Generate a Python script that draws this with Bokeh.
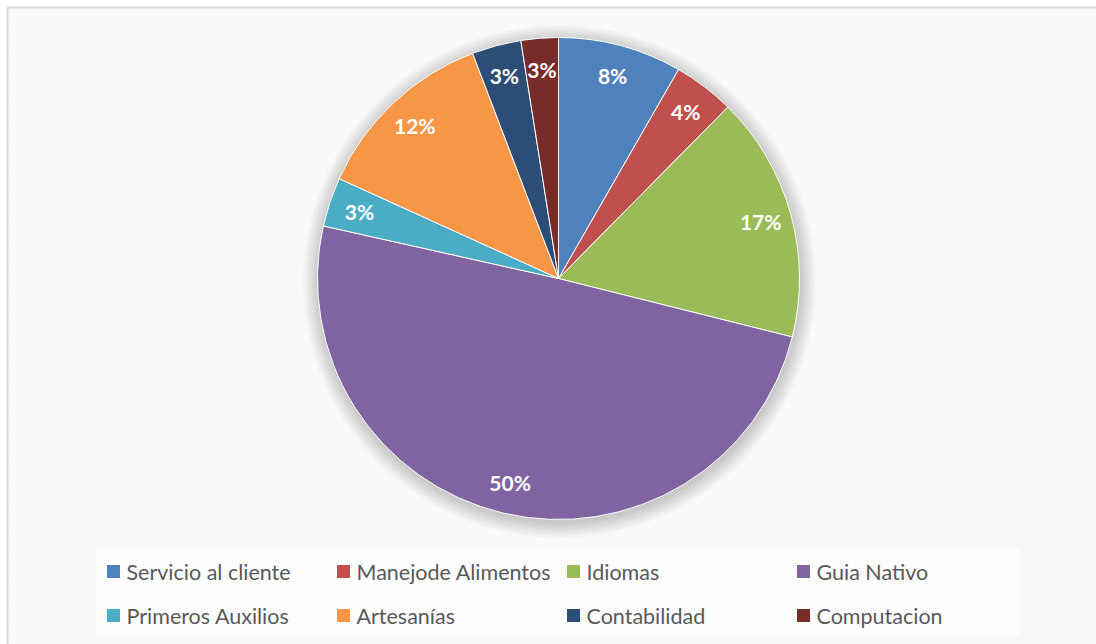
import math
from bokeh.plotting import figure
from bokeh.models import Range1d, ColumnDataSource
from bokeh.core.properties import value
from bokeh.embed import file_html
from bokeh.resources import INLINE

categories = ["Servicio al cliente", "Manejode Alimentos", "Idiomas", "Guia Nativo",
              "Primeros Auxilios", "Artesanías", "Contabilidad", "Computacion"]
values = [8.3, 4.1, 16.5, 49.6, 3.3, 12.4, 3.3, 2.5]
pct_labels = ["8%", "4%", "17%", "50%", "3%", "12%", "3%", "3%"]
colors = ["#4F81BD", "#C0504D", "#9BBB59", "#8064A2",
          "#4BACC6", "#F79646", "#2C4D75", "#772C2A"]

W, H = 1096, 644
p = figure(width=W, height=H, output_backend="svg", toolbar_location=None,
           x_range=Range1d(0, W), y_range=Range1d(0, H), min_border=0,
           background_fill_color="#ffffff", border_fill_color="#ffffff")
p.axis.visible = False
p.grid.visible = False
p.outline_line_color = None

# chart area background with subtle diagonal stripes
p.quad(left=[8], right=[W], bottom=[0], top=[H - 8], fill_color="#ffffff", line_color=None,
       hatch_pattern="left_diagonal_line", hatch_color="#f7f7f7", hatch_scale=6, hatch_weight=2)
# chart border (left and top visible)
p.segment(x0=[7, 7], y0=[0, H - 7], x1=[7, W], y1=[H - 7, H - 7], line_color="#d9d9d9", line_width=2)

cx, cy, R = 558, 366, 241

# soft shadow
for k in range(16, 0, -1):
    p.circle(x=[cx + 1], y=[cy - 3], radius=R + k, fill_color="#000000", fill_alpha=0.011, line_color=None)

total = sum(values)
starts, ends, lx, ly = [], [], [], []
cum = 0.0
for v in values:
    a0 = math.pi / 2 - 2 * math.pi * cum / total
    cum += v
    a1 = math.pi / 2 - 2 * math.pi * cum / total
    starts.append(a0)
    ends.append(a1)
    mid = (a0 + a1) / 2
    lx.append(cx + 210 * math.cos(mid))
    ly.append(cy + 210 * math.sin(mid))

src = ColumnDataSource(dict(start=starts, end=ends, color=colors, cat=categories,
                            lx=lx, ly=ly, lab=pct_labels))
p.wedge(x=cx, y=cy, radius=R, start_angle="start", end_angle="end", direction="clock",
        fill_color="color", line_color="white", line_width=1, source=src)
p.text(x="lx", y="ly", text="lab", source=src, text_color="white", text_font=value("Lato"),
       text_font_style="bold", text_font_size="21px", text_align="center", text_baseline="middle")

# legend
p.quad(left=[96], right=[1019], bottom=[8], top=[97], fill_color="#ffffff", fill_alpha=0.6, line_color=None)
col = [i % 4 for i in range(len(categories))]
row = [i // 4 for i in range(len(categories))]
sq_x = [113 + 230 * c for c in col]
sq_y = [73 - 44 * r for r in row]
tx = [x + 13 for x in sq_x]
lsrc = ColumnDataSource(dict(x=sq_x, y=sq_y, tx=tx, color=colors, cat=categories))
p.rect(x="x", y="y", width=13, height=13, fill_color="color", line_color=None, source=lsrc)
p.text(x="tx", y="y", text="cat", source=lsrc, text_color="#595959", text_font=value("Lato"),
       text_font_size="21.5px", text_align="left", text_baseline="middle")

open("out.html", "w").write(file_html(p, INLINE))
